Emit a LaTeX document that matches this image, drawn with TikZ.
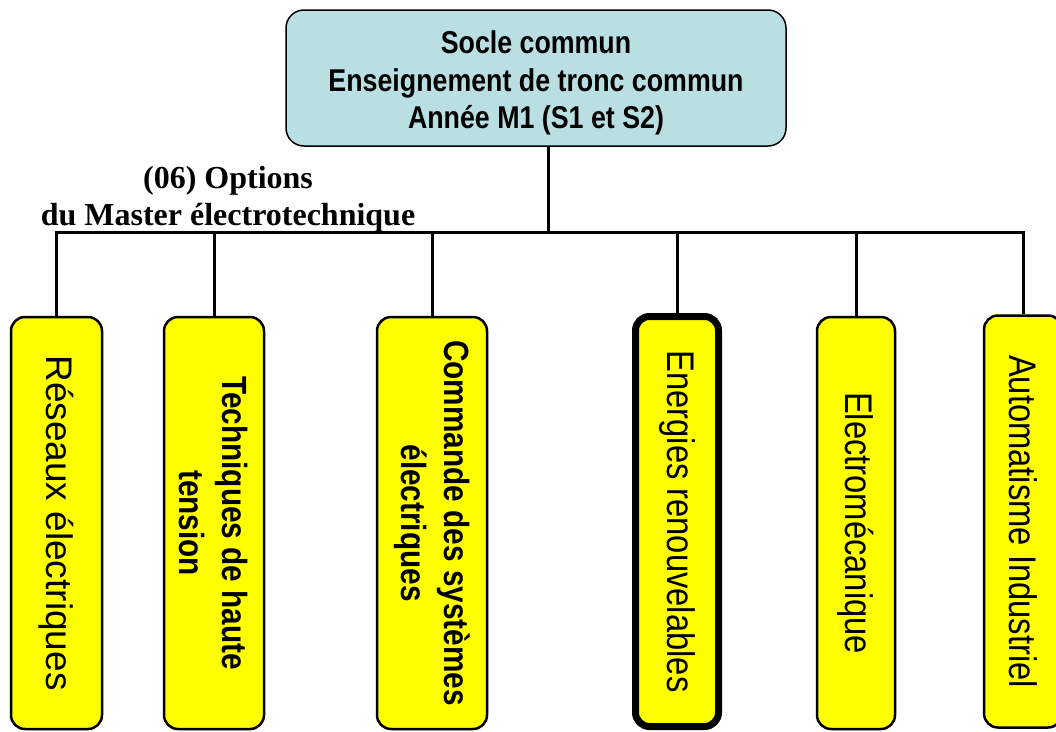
\documentclass[tikz,border=0pt]{standalone}
\usepackage{fontspec}
\setmainfont{Liberation Sans}
\newfontfamily\narrowfont[FakeStretch=0.85]{Liberation Sans}
\newfontfamily\labelfont{Liberation Serif}
\usetikzlibrary{positioning}
\definecolor{soclecolor}{RGB}{185,223,227}
\definecolor{optioncolor}{RGB}{255,255,0}

\begin{document}
\begin{tikzpicture}[
    x=1pt, y=-1pt,
    head box/.style={draw, line width=1.5pt, rounded corners=18pt, fill=soclecolor, minimum width=500pt, minimum height=136pt, font=\narrowfont\bfseries\fontsize{31.5}{37.5}\selectfont},
    option box/.style={draw, line width=2.5pt, rounded corners=14pt, fill=optioncolor, rotate=-90, minimum width=412pt, align=center, inner sep=0pt},
    link/.style={line width=3pt}
]
    \useasboundingbox (0,0) rectangle (1056,731);

    % Nodes
    \node[head box] (socle) at (536,78) {\begin{tabular}{@{}c@{}}\rule{0pt}{38pt}Socle commun\\Enseignement de tronc commun\\Ann\'ee M1 (S1 et S2)\end{tabular}};
    \node[align=center, font=\labelfont\bfseries\fontsize{32}{37}\selectfont] (titre) at (228,199) {(06) Options\\du Master \'electrotechnique};

    % Options
    \node[option box, minimum height=91pt, font=\fontsize{37}{43}\selectfont] (reseaux) at (56.5,523) {R\'eseaux \'electriques};
    \node[option box, minimum height=100pt, font=\narrowfont\bfseries\fontsize{35}{43}\selectfont] (haute) at (214,523) {Techniques de haute\\tension};
    \node[option box, minimum height=110pt, font=\narrowfont\bfseries\fontsize{35}{43}\selectfont] (commande) at (432,523) {Commande des syst\`emes\\\'electriques};
    \node[option box, line width=7pt, minimum height=83pt, minimum width=410pt, font=\narrowfont\fontsize{38.5}{44}\selectfont] (energies) at (677,521.5) {Energies renouvelables};
    \node[option box, minimum height=78pt, font=\narrowfont\fontsize{38.5}{44}\selectfont] (electro) at (856,523) {Electrom\'ecanique};
    \node[option box, minimum height=78pt, font=\narrowfont\fontsize{38.5}{44}\selectfont] (auto) at (1023,521.5) {Automatisme Industriel};

    % Lines
    \coordinate (bus) at (548,232);
    \draw[link] (socle.south -| bus) -- (bus);
    \foreach \opt in {reseaux, haute, commande, energies, electro, auto}
        \draw[link] (bus) -| (\opt.west);
\end{tikzpicture}
\end{document}
